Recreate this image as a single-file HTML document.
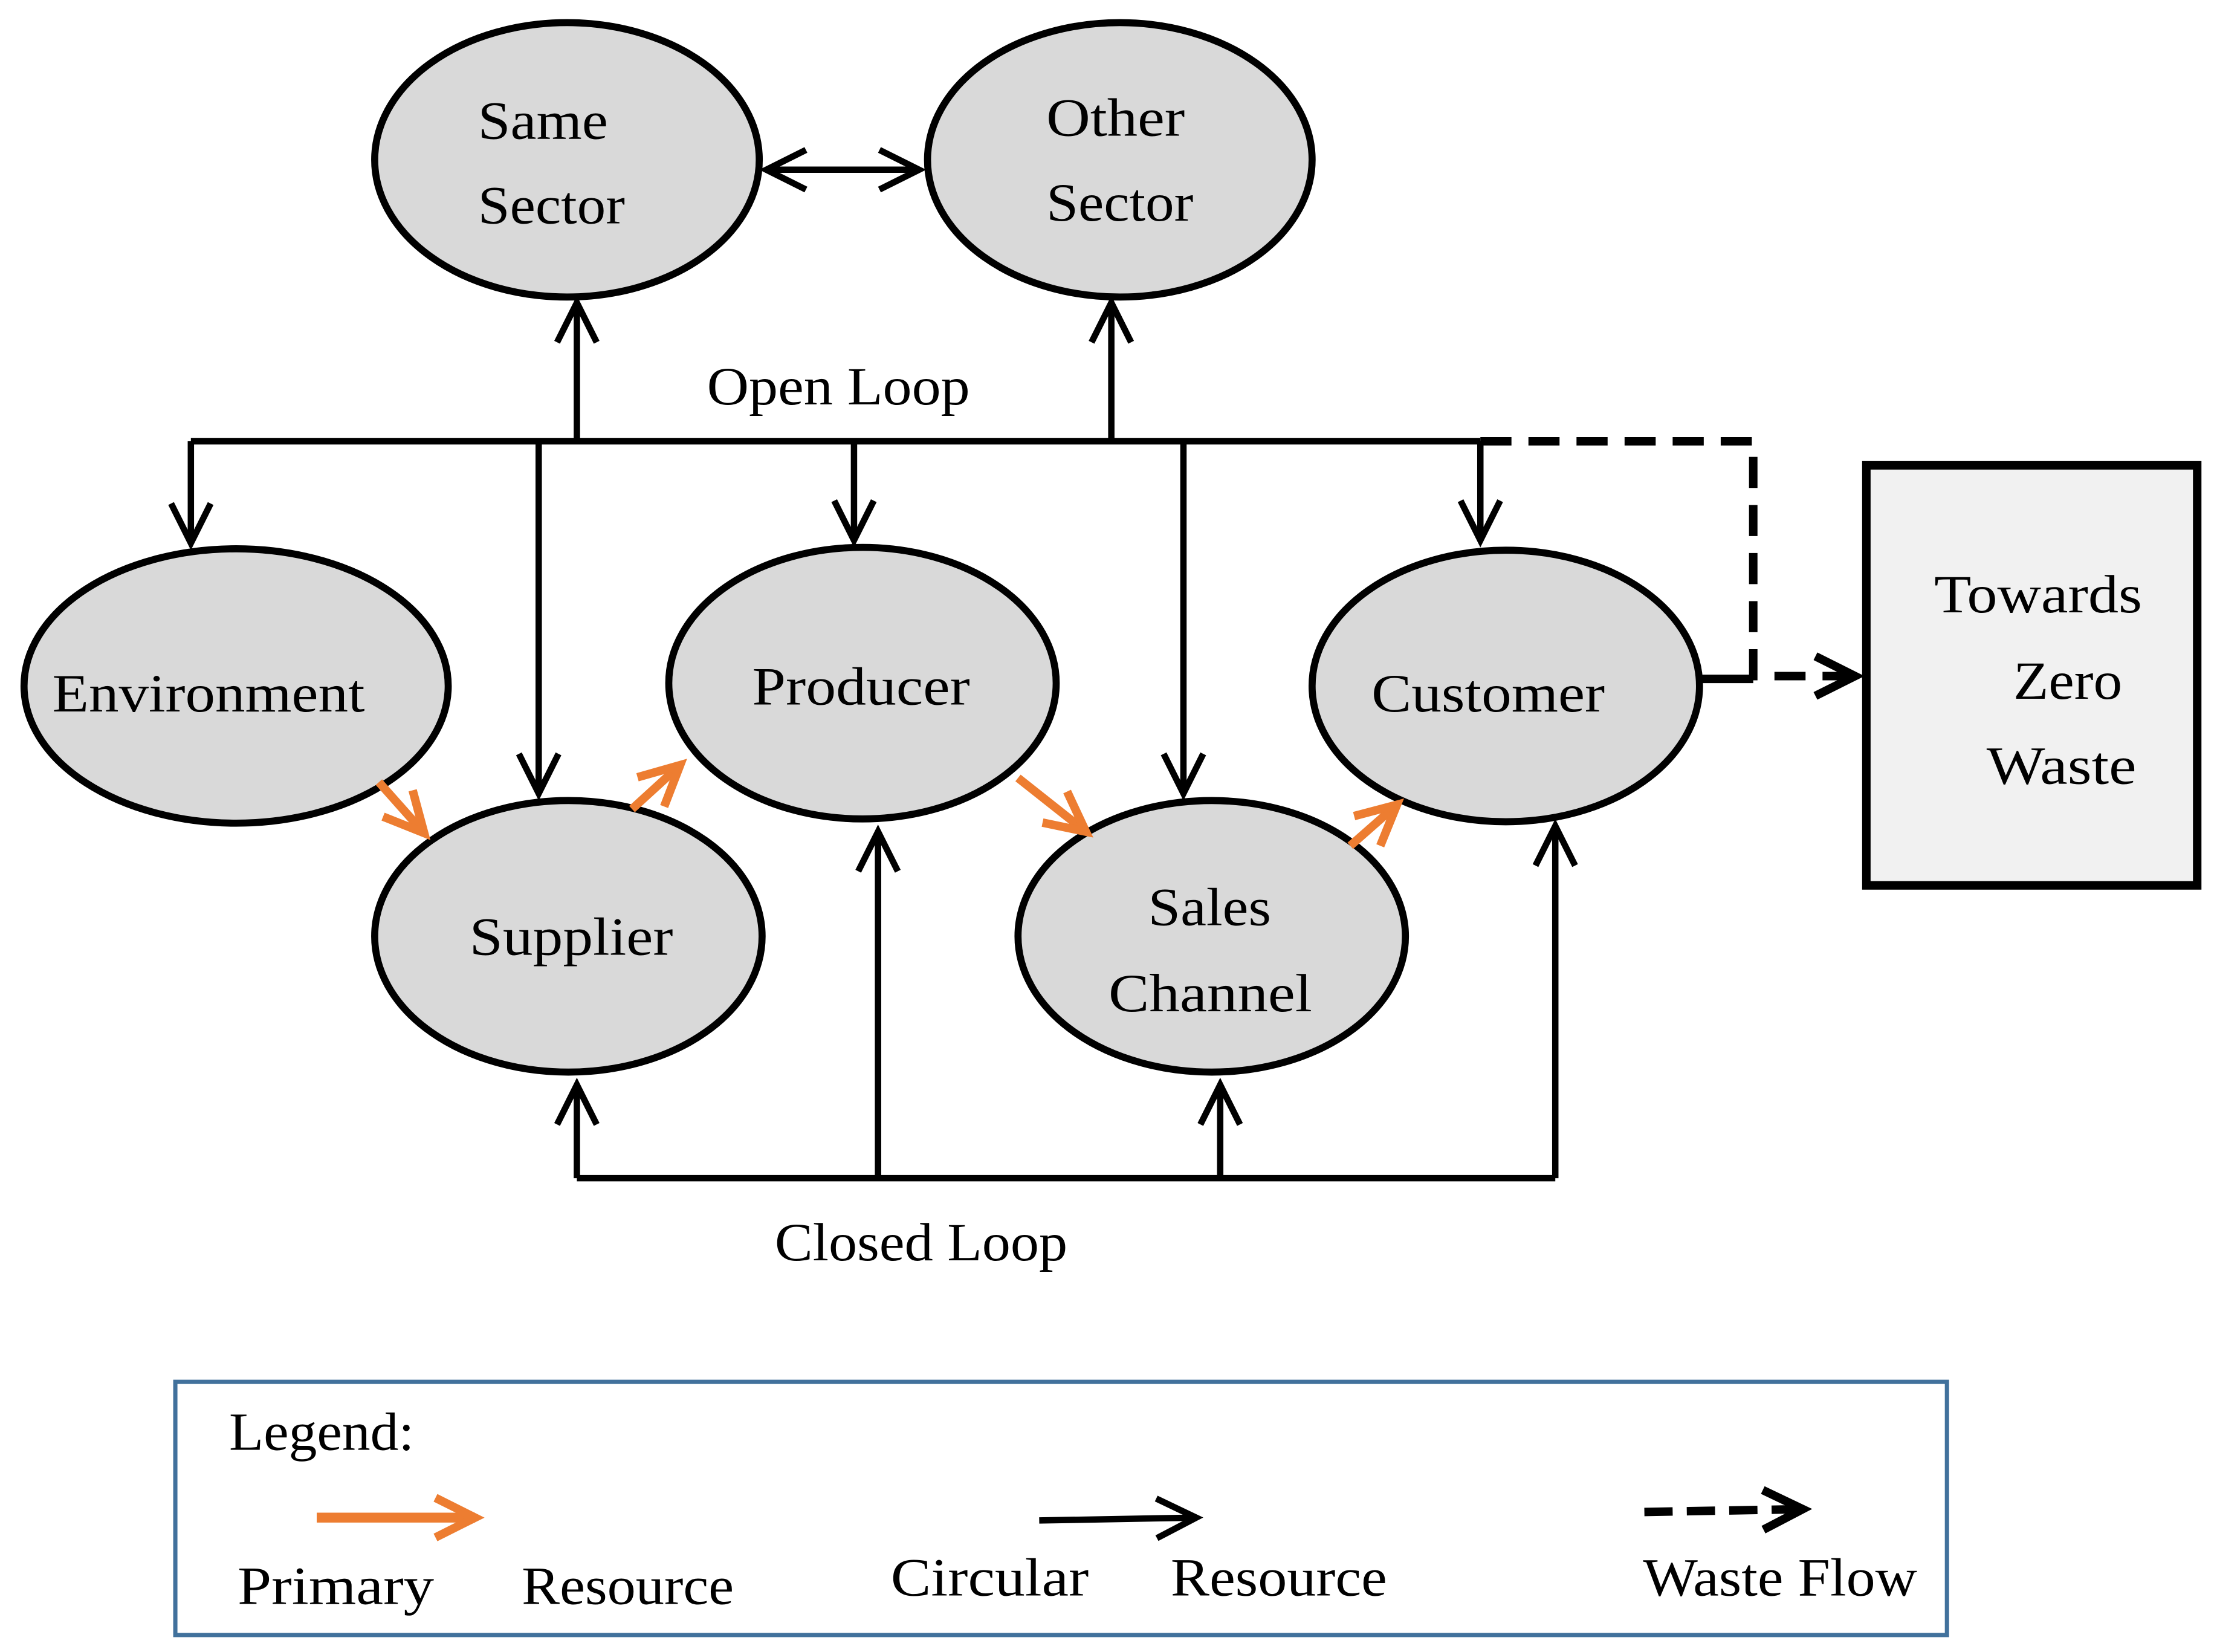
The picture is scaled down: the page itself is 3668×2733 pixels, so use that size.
<!DOCTYPE html>
<html><head><meta charset="utf-8"><style>
html,body{margin:0;padding:0;background:#fff}
svg{display:block}
text{font-family:"Liberation Serif",serif;font-size:38px;fill:#000}
</style></head><body>
<svg width="3668" height="2733" viewBox="0 0 1568 1168" preserveAspectRatio="none" xmlns="http://www.w3.org/2000/svg">
<defs>
<marker id="a" viewBox="0 0 20 20" refX="18" refY="10" markerWidth="20" markerHeight="20" markerUnits="userSpaceOnUse" orient="auto" overflow="visible">
<polyline points="-10,-4 18,10 -10,24" fill="none" stroke="#000" stroke-width="4.5"/></marker>
<marker id="o" viewBox="0 0 20 20" refX="18" refY="10" markerWidth="20" markerHeight="20" markerUnits="userSpaceOnUse" orient="auto" overflow="visible">
<polyline points="-10,-4 18,10 -10,24" fill="none" stroke="#ed7d31" stroke-width="6"/></marker>
<marker id="s" viewBox="0 0 20 20" refX="18" refY="10" markerWidth="20" markerHeight="20" markerUnits="userSpaceOnUse" orient="auto-start-reverse" overflow="visible">
<polyline points="-10,-4 18,10 -10,24" fill="none" stroke="#000" stroke-width="4.5"/></marker>
<marker id="w" viewBox="0 0 20 20" refX="18" refY="10" markerWidth="20" markerHeight="20" markerUnits="userSpaceOnUse" orient="auto" overflow="visible">
<polyline points="-10,-4 18,10 -10,24" fill="none" stroke="#000" stroke-width="6"/></marker>
</defs>
<g fill="#d9d9d9" stroke="#000" stroke-width="5">
<ellipse cx="401" cy="113" rx="136" ry="97"/>
<ellipse cx="792" cy="113" rx="136" ry="97"/>
<ellipse cx="167" cy="485" rx="150" ry="97"/>
<ellipse cx="610" cy="483" rx="137" ry="96"/>
<ellipse cx="1065" cy="485" rx="137" ry="96"/>
<ellipse cx="402" cy="662" rx="137" ry="96"/>
<ellipse cx="857" cy="662" rx="137" ry="96"/>
</g>
<rect x="1320" y="329" width="234" height="297" fill="#f1f1f1" stroke="#000" stroke-width="6"/>
<g stroke="#000" stroke-width="4.5" fill="none">
<line x1="135" y1="312" x2="1047" y2="312"/>
<line x1="408" y1="312" x2="408" y2="214" marker-end="url(#a)"/>
<line x1="786" y1="312" x2="786" y2="214" marker-end="url(#a)"/>
<line x1="135" y1="312" x2="135" y2="384" marker-end="url(#a)"/>
<line x1="381" y1="312" x2="381" y2="561" marker-end="url(#a)"/>
<line x1="604" y1="312" x2="604" y2="382" marker-end="url(#a)"/>
<line x1="837" y1="312" x2="837" y2="561" marker-end="url(#a)"/>
<line x1="1047" y1="312" x2="1047" y2="382" marker-end="url(#a)"/>
<line x1="408" y1="833" x2="1100" y2="833"/>
<line x1="408" y1="833" x2="408" y2="767" marker-end="url(#a)"/>
<line x1="621" y1="833" x2="621" y2="588" marker-end="url(#a)"/>
<line x1="863" y1="833" x2="863" y2="767" marker-end="url(#a)"/>
<line x1="1100" y1="833" x2="1100" y2="584" marker-end="url(#a)"/>
<line x1="542" y1="120" x2="650" y2="120" marker-start="url(#s)" marker-end="url(#s)"/>
<polyline points="1047,312 1240,312 1240,478 1312,478" stroke-width="6" stroke-dasharray="22,12" marker-end="url(#w)"/>
<line x1="1203" y1="480" x2="1240" y2="480" stroke-width="6"/>
</g>
<g stroke="#ed7d31" stroke-width="6">
<line x1="268" y1="553" x2="300" y2="589" marker-end="url(#o)"/>
<line x1="447" y1="572" x2="481" y2="541" marker-end="url(#o)"/>
<line x1="720" y1="550" x2="768" y2="588" marker-end="url(#o)"/>
<line x1="955" y1="598" x2="988" y2="569" marker-end="url(#o)"/>
</g>
<g lengthAdjust="spacingAndGlyphs">
<text x="338" y="98" textLength="92" lengthAdjust="spacingAndGlyphs">Same</text>
<text x="338" y="158" textLength="104" lengthAdjust="spacingAndGlyphs">Sector</text>
<text x="740" y="96" textLength="98" lengthAdjust="spacingAndGlyphs">Other</text>
<text x="740" y="156" textLength="104" lengthAdjust="spacingAndGlyphs">Sector</text>
<text x="37" y="503" textLength="221" lengthAdjust="spacingAndGlyphs">Environment</text>
<text x="532" y="498" textLength="154" lengthAdjust="spacingAndGlyphs">Producer</text>
<text x="970" y="503" textLength="165" lengthAdjust="spacingAndGlyphs">Customer</text>
<text x="332" y="675" textLength="144" lengthAdjust="spacingAndGlyphs">Supplier</text>
<text x="812" y="654" textLength="87" lengthAdjust="spacingAndGlyphs">Sales</text>
<text x="784" y="715" textLength="144" lengthAdjust="spacingAndGlyphs">Channel</text>
<text x="1368" y="433" textLength="147" lengthAdjust="spacingAndGlyphs">Towards</text>
<text x="1424" y="494" textLength="77" lengthAdjust="spacingAndGlyphs">Zero</text>
<text x="1405" y="554" textLength="106" lengthAdjust="spacingAndGlyphs">Waste</text>
<text x="500" y="286" textLength="186" lengthAdjust="spacingAndGlyphs">Open Loop</text>
<text x="548" y="891" textLength="207" lengthAdjust="spacingAndGlyphs">Closed Loop</text>
</g>
<rect x="124" y="977" width="1253" height="179" fill="none" stroke="#41719c" stroke-width="3"/>
<text x="162" y="1025" textLength="131" lengthAdjust="spacingAndGlyphs">Legend:</text>
<line x1="224" y1="1073" x2="336" y2="1073" stroke="#ed7d31" stroke-width="7" marker-end="url(#o)"/>
<line x1="735" y1="1075" x2="846" y2="1073" stroke="#000" stroke-width="4.5" marker-end="url(#a)"/>
<line x1="1163" y1="1069" x2="1275" y2="1067" stroke="#000" stroke-width="6" stroke-dasharray="20,10" marker-end="url(#w)"/>
<text x="168" y="1134" textLength="139" lengthAdjust="spacingAndGlyphs">Primary</text>
<text x="369" y="1134" textLength="150" lengthAdjust="spacingAndGlyphs">Resource</text>
<text x="630" y="1128" textLength="140" lengthAdjust="spacingAndGlyphs">Circular</text>
<text x="828" y="1128" textLength="153" lengthAdjust="spacingAndGlyphs">Resource</text>
<text x="1162" y="1128" textLength="194" lengthAdjust="spacingAndGlyphs">Waste Flow</text>
</svg>
</body></html>
